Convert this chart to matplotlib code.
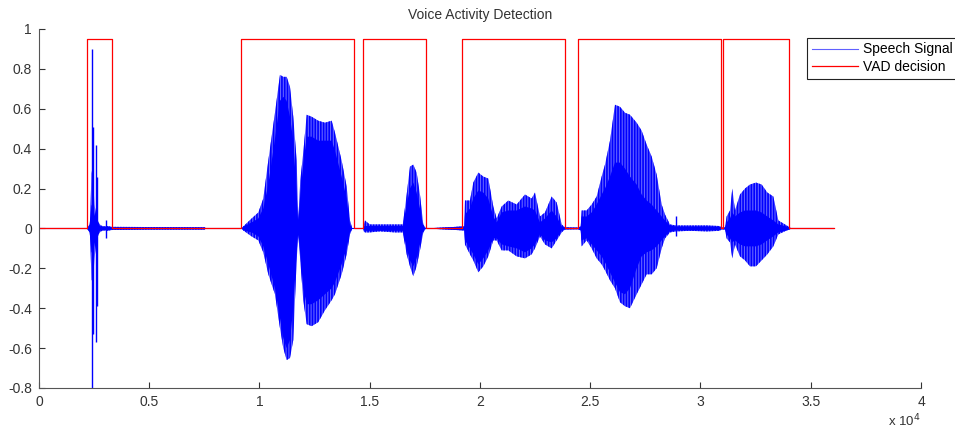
import matplotlib
matplotlib.use('Agg')
import matplotlib.pyplot as plt
import numpy as np

# signal envelope (sample index, amplitude)
env_x = [0, 2177, 2300, 2330, 2380, 2450, 2520, 2600, 2700, 2800, 2950, 3100, 3300, 5000, 7500, 7600,
         9200, 9266, 9645, 9947, 10173, 10400, 10703, 10930, 11080, 11233, 11383, 11533, 11686, 11760,
         11850, 11986, 12140, 12367, 12667, 12970, 13274, 13424, 13727, 13954, 14104, 14208,
         14700, 14730, 14784, 15000, 15464, 16145, 16500, 16675, 16825, 16975, 17128, 17278, 17428, 17550,
         19287, 19319, 19546, 19697, 19924, 20151, 20377, 20604, 20756, 20983, 21283, 21664, 22040,
         22343, 22494, 22721, 22948, 23251, 23478, 23705, 23855, 24450,
         24565, 24611, 24838, 25065, 25291, 25518, 25669, 25896, 26122, 26349, 26576, 26803, 27105,
         27332, 27559, 27786, 28012, 28239, 28390, 28617, 28889, 29500, 30300, 30880, 30930,
         31110, 31186, 31338, 31442, 31565, 31792, 32018, 32245, 32517, 32775, 33030, 33303, 33530,
         33908, 34050, 34100,
         36000]
env_hi = [0, 0, 0.02, 0.06, 0.29, 0.25, 0.12, 0.06, 0.03, 0.015, 0.01, 0.012, 0.008, 0.007, 0.006, 0,
          0, 0.01, 0.05, 0.08, 0.15, 0.34, 0.58, 0.77, 0.76, 0.76, 0.71, 0.56, 0.34, 0.04,
          0.24, 0.38, 0.57, 0.56, 0.54, 0.53, 0.54, 0.48, 0.34, 0.21, 0.04, 0,
          0, 0.015, 0.04, 0.02, 0.02, 0.02, 0.02, 0.17, 0.31, 0.32, 0.28, 0.17, 0.02, 0,
          0.01, 0.14, 0.14, 0.23, 0.28, 0.26, 0.25, 0.11, 0.05, 0.11, 0.14, 0.12, 0.17,
          0.15, 0.18, 0.06, 0.08, 0.16, 0.13, 0.02, 0.005, 0.004,
          0.01, 0.09, 0.09, 0.12, 0.16, 0.26, 0.32, 0.44, 0.62, 0.61, 0.58, 0.57, 0.53,
          0.49, 0.42, 0.36, 0.27, 0.12, 0.07, 0.02, 0.015, 0.015, 0.015, 0.012, 0.005,
          0.005, 0.06, 0.09, 0.20, 0.09, 0.17, 0.20, 0.22, 0.23, 0.22, 0.18, 0.16, 0.04,
          0.015, 0.005, 0,
          0]
env_lo = [0, 0, -0.02, -0.06, -0.26, -0.26, -0.15, -0.07, -0.03, -0.015, -0.01, -0.012, -0.008, -0.006, -0.006, 0,
          0, -0.01, -0.04, -0.06, -0.12, -0.23, -0.33, -0.50, -0.60, -0.66, -0.65, -0.56, -0.16, -0.03,
          -0.16, -0.36, -0.48, -0.49, -0.47, -0.41, -0.36, -0.33, -0.23, -0.13, -0.03, 0,
          0, -0.015, -0.02, -0.02, -0.015, -0.02, -0.02, -0.13, -0.19, -0.24, -0.19, -0.11, -0.02, 0,
          -0.01, -0.08, -0.13, -0.16, -0.22, -0.19, -0.14, -0.06, -0.06, -0.11, -0.11, -0.14, -0.15,
          -0.13, -0.10, -0.04, -0.08, -0.10, -0.06, -0.02, -0.005, -0.004,
          -0.01, -0.09, -0.06, -0.10, -0.15, -0.18, -0.21, -0.26, -0.30, -0.37, -0.39, -0.40, -0.33,
          -0.28, -0.23, -0.23, -0.20, -0.10, -0.05, -0.02, -0.015, -0.012, -0.015, -0.012, -0.005,
          -0.005, -0.05, -0.07, -0.15, -0.08, -0.14, -0.16, -0.19, -0.19, -0.16, -0.13, -0.09, -0.03,
          -0.01, -0.005, 0,
          0]
core_hi = [0, 0, 0.02, 0.05, 0.12, 0.10, 0.07, 0.04, 0.02, 0.01, 0.008, 0.01, 0.006, 0.005, 0.005, 0,
           0, 0.01, 0.03, 0.05, 0.10, 0.22, 0.45, 0.64, 0.66, 0.64, 0.56, 0.44, 0.18, 0.02,
           0.17, 0.32, 0.46, 0.46, 0.44, 0.44, 0.44, 0.39, 0.26, 0.15, 0.02, 0,
           0, 0.01, 0.012, 0.012, 0.012, 0.012, 0.012, 0.12, 0.20, 0.23, 0.18, 0.10, 0.01, 0,
           0.01, 0.07, 0.10, 0.15, 0.19, 0.18, 0.15, 0.06, 0.03, 0.08, 0.09, 0.09, 0.11,
           0.10, 0.09, 0.03, 0.05, 0.09, 0.06, 0.01, 0.005, 0.004,
           0.01, 0.06, 0.06, 0.08, 0.12, 0.17, 0.20, 0.26, 0.33, 0.33, 0.30, 0.26, 0.22,
           0.17, 0.14, 0.12, 0.09, 0.06, 0.04, 0.015, 0.01, 0.01, 0.01, 0.008, 0.004,
           0.005, 0.03, 0.05, 0.08, 0.06, 0.08, 0.09, 0.09, 0.09, 0.08, 0.06, 0.04, 0.02,
           0.01, 0.005, 0,
           0]
core_lo = [0, 0, -0.02, -0.05, -0.12, -0.12, -0.08, -0.04, -0.02, -0.01, -0.008, -0.01, -0.006, -0.005, -0.005, 0,
           0, -0.01, -0.02, -0.04, -0.09, -0.18, -0.30, -0.45, -0.55, -0.60, -0.56, -0.40, -0.12, -0.02,
           -0.13, -0.30, -0.38, -0.38, -0.36, -0.33, -0.30, -0.27, -0.18, -0.10, -0.02, 0,
           0, -0.01, -0.012, -0.012, -0.012, -0.012, -0.012, -0.10, -0.16, -0.19, -0.15, -0.08, -0.01, 0,
           -0.01, -0.06, -0.10, -0.13, -0.18, -0.15, -0.11, -0.05, -0.05, -0.08, -0.09, -0.10, -0.12,
           -0.10, -0.08, -0.03, -0.06, -0.07, -0.05, -0.01, -0.005, -0.004,
           -0.01, -0.06, -0.05, -0.08, -0.11, -0.14, -0.17, -0.22, -0.27, -0.32, -0.33, -0.30, -0.20,
           -0.14, -0.12, -0.11, -0.09, -0.06, -0.04, -0.015, -0.01, -0.01, -0.01, -0.008, -0.004,
           -0.005, -0.03, -0.05, -0.07, -0.06, -0.08, -0.09, -0.09, -0.09, -0.08, -0.06, -0.04, -0.02,
           -0.01, -0.005, 0,
           0]

# isolated tall spikes
spike_x = [2390, 2463, 2570, 2630, 3025, 28889]
spike_hi = [0.90, 0.51, 0.42, 0.26, 0.04, 0.06]
spike_lo = [-0.82, -0.53, -0.57, -0.39, -0.05, -0.04]

# VAD decision segments
vad_on = [2177, 9161, 14694, 19184, 24444, 31020]
vad_off = [3311, 14286, 17551, 23855, 30930, 34013]
vad_level = 0.95
vad_end = 36054

xtick_labels = ['0', '0.5', '1', '1.5', '2', '2.5', '3', '3.5', '4']
yticks = [-0.8, -0.6, -0.4, -0.2, 0, 0.2, 0.4, 0.6, 0.8, 1]

plt.rcParams['font.family'] = ['Liberation Sans', 'DejaVu Sans']
plt.rcParams['hatch.linewidth'] = 1.2

fig = plt.figure(figsize=(9.55, 4.32), dpi=100)
ax = fig.add_axes([0.0408, 0.1019, 0.9236, 0.831])

ax.fill_between(env_x, env_lo, env_hi, facecolor='#6464ff', edgecolor='blue',
                hatch='||||||', linewidth=0)
ax.fill_between(env_x, core_lo, core_hi, facecolor='blue', linewidth=0)
ax.vlines(spike_x, spike_lo, spike_hi, color='blue', linewidth=1.0)
ax.plot(env_x, np.zeros(len(env_x)), color='blue', linewidth=0.8, label='Speech Signal')

vx = [0]
vy = [0]
for on, off in zip(vad_on, vad_off):
    vx += [on, on, off, off]
    vy += [0, vad_level, vad_level, 0]
vx.append(vad_end)
vy.append(0)
ax.plot(vx, vy, color='red', linewidth=0.9, label='VAD decision')

ax.set_xlim(0, 40000)
ax.set_ylim(-0.8, 1)
ax.set_xticks([float(t) * 1e4 for t in xtick_labels])
ax.set_xticklabels(xtick_labels)
ax.set_yticks(yticks)
ax.set_yticklabels([f'{v:g}' for v in yticks])
ax.tick_params(direction='in', length=4, labelsize=10, colors='#333333', width=0.8, pad=5)
for side in ['top', 'right']:
    ax.spines[side].set_visible(False)
for side in ['left', 'bottom']:
    ax.spines[side].set_color('#555555')
    ax.spines[side].set_linewidth(0.8)

ax.set_title('Voice Activity Detection', fontsize=10, color='#333333', pad=7)
ax.text(1.0, -0.068, r'x 10$^{4}$', transform=ax.transAxes, ha='right', va='top',
        fontsize=9.5, color='#333333')

leg = ax.legend(loc='upper left', bbox_to_anchor=(0.871, 0.976), fontsize=10,
                fancybox=False, framealpha=1, edgecolor='#222222', handlelength=3.3,
                handletextpad=0.4, borderpad=0.35, labelspacing=0.25, borderaxespad=0)
leg.get_frame().set_linewidth(0.8)
leg.get_lines()[0].set_color('#6060ff')

fig.savefig('out.png', dpi=100)
